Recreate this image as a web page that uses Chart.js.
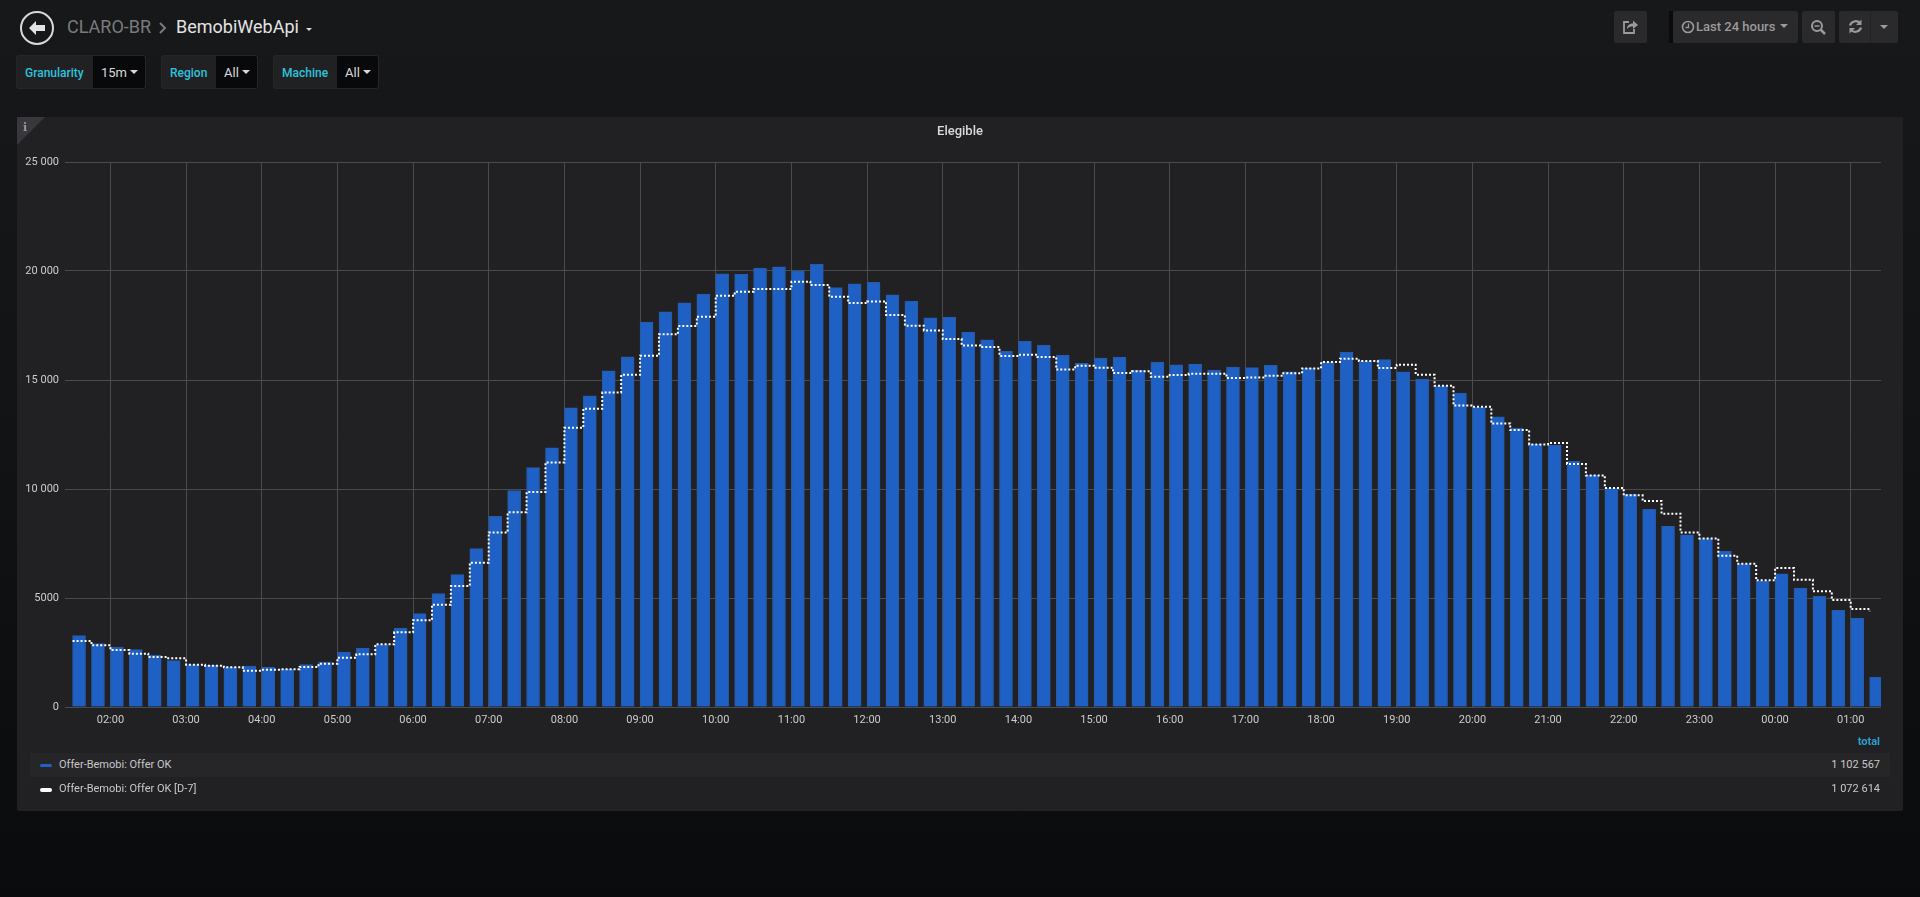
<!DOCTYPE html>
<html>
<head>
<meta charset="utf-8">
<title>CLARO-BR BemobiWebApi</title>
<script src="https://cdn.jsdelivr.net/npm/chart.js@4"></script>
<style>
    html, body { margin: 0; height: 100%; overflow: hidden; }
    body {
        position: relative;
        width: 1920px;
        height: 897px;
        background: linear-gradient(#17181a 0, #141517 300px, #0a0b0d 100%);
        font-family: Roboto, sans-serif;
    }
    .abs { position: absolute; white-space: nowrap; }

    /* top nav */
    .crumb { font-size: 18px; line-height: 24px; top: 15px; }
    .btn { background: #2a2a2d; border-radius: 2px; top: 11px; height: 32px; }
    .btn svg { position: absolute; }

    /* template variables */
    .var-label, .var-value { top: 55px; height: 34px; line-height: 34px; box-sizing: border-box; }
    .var-label {
        background: #212124; color: #2cc3dc; font-size: 12px; font-weight: 500;
        border-radius: 3px 0 0 3px; padding-left: 8px; border: 1px solid #25262a; border-right: 0;
    }
    .var-value {
        background: #09090b; color: #d8d9da; font-size: 13px;
        border-radius: 0 3px 3px 0; padding-left: 8px; border: 1px solid #25262a; border-left: 0;
    }
    .caret {
        position: absolute; width: 0; height: 0;
        border-left: 4px solid transparent; border-right: 4px solid transparent;
        border-top: 4px solid #d8d9da;
    }

    /* panel */
    #panel { left: 17px; top: 117px; width: 1886px; height: 694px; background: #212124; border-radius: 2px; }
    #chart { position: absolute; left: 0; top: 0; }
    #corner {
        left: 0; top: 0; width: 0; height: 0;
        border-top: 28px solid #38383c; border-right: 28px solid transparent;
    }
    #panel-title {
        left: 0; top: 4px; width: 1886px; text-align: center;
        line-height: 20px; font-size: 13px; font-weight: 500; color: #d8d9da;
    }

    /* legend */
    .legend-row { left: 13px; width: 1860px; height: 24px; }
    .legend-text { color: #c8c8c8; font-size: 11px; line-height: 24px; top: 0; }
    .legend-line { left: 10px; width: 12px; border-radius: 2px; }
</style>
</head>
<body>

<!-- back button and title -->
<svg class="abs" style="left:19px;top:10px" width="36" height="36" viewBox="0 0 36 36">
    <circle cx="18" cy="18" r="16" fill="none" stroke="#d8d9da" stroke-width="2"/>
    <path d="M10 18 L17 11 L17 15 L26 15 L26 21 L17 21 L17 25 Z" fill="#e3e3e3"/>
</svg>
<div class="abs crumb" style="left:67px;color:#7b7b7b">CLARO-BR</div>
<svg class="abs" style="left:158px;top:21px" width="10" height="14" viewBox="0 0 10 14">
    <path d="M2 2 L7 7 L2 12" fill="none" stroke="#7b7b7b" stroke-width="2"/>
</svg>
<div class="abs crumb" style="left:176px;color:#e3e3e3">BemobiWebApi</div>
<div class="caret" style="left:306px;top:28px;border-left-width:3.5px;border-right-width:3.5px;border-top-width:3px"></div>

<!-- time controls -->
<div class="abs btn" style="left:1614px;width:33px">
    <svg style="left:8px;top:8px" width="17" height="16" viewBox="0 0 17 16">
        <path d="M7 3 H2 V14 H12 V10" fill="none" stroke="#9a9a9a" stroke-width="1.8"/>
        <path d="M5 10 C5 6 8 4.5 11 4.5 V1.5 L16 6 L11 10 V7.5 C8.5 7.5 6.5 8 5 10 Z" fill="#9a9a9a"/>
    </svg>
</div>
<div class="abs" style="left:1669px;top:11px;width:4px;height:32px;background:#0b0b0d"></div>
<div class="abs btn" style="left:1673px;width:125px">
    <svg style="left:8px;top:9px" width="14" height="14" viewBox="0 0 14 14">
        <circle cx="7" cy="7" r="5.5" fill="none" stroke="#9a9a9a" stroke-width="1.6"/>
        <path d="M7.5 3.5 V7.5 H4.5" fill="none" stroke="#9a9a9a" stroke-width="1.3"/>
    </svg>
    <div class="abs" style="left:23px;top:0;line-height:31px;font-size:13px;font-weight:500;color:#9a9a9a">Last 24 hours</div>
    <div class="caret" style="left:107px;top:13px;border-top-color:#9a9a9a"></div>
</div>
<div class="abs btn" style="left:1802px;width:33px">
    <svg style="left:8px;top:8px" width="17" height="17" viewBox="0 0 17 17">
        <circle cx="7" cy="7" r="5" fill="none" stroke="#9a9a9a" stroke-width="2"/>
        <path d="M4.5 7 H9.5" stroke="#9a9a9a" stroke-width="1.5"/>
        <path d="M10.5 10.5 L15 15" stroke="#9a9a9a" stroke-width="2.5"/>
    </svg>
</div>
<div class="abs btn" style="left:1839px;width:59px">
    <svg style="left:9px;top:8px" width="15" height="15" viewBox="0 0 15 15">
        <path d="M2 6.5 C3 2.5 8.5 0.5 12 4" fill="none" stroke="#9a9a9a" stroke-width="2.2"/>
        <path d="M13.5 0.5 V6 H8 Z" fill="#9a9a9a"/>
        <path d="M13 8.5 C12 12.5 6.5 14.5 3 11" fill="none" stroke="#9a9a9a" stroke-width="2.2"/>
        <path d="M1.5 14.5 V9 H7 Z" fill="#9a9a9a"/>
    </svg>
    <div class="abs" style="left:31px;top:0;width:1px;height:32px;background:#222225"></div>
    <div class="caret" style="left:41px;top:14px;border-top-color:#9a9a9a"></div>
</div>

<!-- template variables -->
<div class="abs var-label" style="left:16px;width:77px">Granularity</div>
<div class="abs var-value" style="left:93px;width:53px">15m<div class="caret" style="left:37px;top:14px"></div></div>
<div class="abs var-label" style="left:161px;width:55px">Region</div>
<div class="abs var-value" style="left:216px;width:42px">All<div class="caret" style="left:26px;top:14px"></div></div>
<div class="abs var-label" style="left:273px;width:64px">Machine</div>
<div class="abs var-value" style="left:337px;width:42px">All<div class="caret" style="left:26px;top:14px"></div></div>

<!-- graph panel -->
<div class="abs" id="panel">
    <canvas id="chart" width="1886" height="694"></canvas>
    <div class="abs" id="corner"></div>
    <div class="abs" style="left:6px;top:4px;font:bold 11px 'DejaVu Serif',serif;color:#9a9a9a">i</div>
    <div class="abs" id="panel-title">Elegible</div>

    <div class="abs" style="right:23px;top:618px;font-size:11px;font-weight:700;color:#2b9fd0">total</div>
    <div class="abs legend-row" style="top:636px;background:#262628">
        <div class="abs legend-line" style="top:11px;height:3px;background:#1f60c4"></div>
        <div class="abs legend-text" style="left:29px">Offer-Bemobi: Offer OK</div>
        <div class="abs legend-text" style="right:10px">1 102 567</div>
    </div>
    <div class="abs legend-row" style="top:660px">
        <div class="abs legend-line" style="top:11px;height:4px;background:#ffffff"></div>
        <div class="abs legend-text" style="left:29px">Offer-Bemobi: Offer OK [D-7]</div>
        <div class="abs legend-text" style="right:10px">1 072 614</div>
    </div>
</div>

<script>
// 15 minute buckets, first one at 01:30
const firstSlotMinutes = 90;
const slotMinutes = 15;

const offerOk = [
    3272, 2905, 2752, 2630, 2385, 2125, 1942, 1911, 1835, 1880, 1835, 1743,
    1942, 2064, 2523, 2706, 2859, 3624, 4281, 5199, 6070, 7263, 8744, 9922,
    10977, 11894, 13729, 14279, 15426, 16068, 17658, 18132, 18545, 18943, 19875, 19845,
    20135, 20197, 20013, 20319, 19234, 19417, 19478, 18912, 18622, 17857, 17888, 17200,
    16848, 16313, 16772, 16603, 16145, 15763, 16007, 16053, 15441, 15824, 15701, 15732,
    15457, 15594, 15564, 15671, 15380, 15549, 15809, 16283, 15870, 15931, 15380, 15044,
    14738, 14402, 13744, 13316, 12796, 12047, 12001, 11267, 10640, 10044, 9769, 9065,
    8286, 7903, 7720, 7139, 6573, 5793, 6114, 5457, 5075, 4433, 4081, 1375
];

const offerOkD7 = [
    3027, 2829, 2615, 2446, 2294, 2232, 1942, 1896, 1820, 1667, 1712, 1728,
    1835, 1988, 2263, 2416, 2875, 3425, 3975, 4694, 5550, 6621, 8010, 8928,
    9861, 11221, 12811, 13683, 14432, 15243, 16114, 17093, 17475, 17903, 18866, 19050,
    19172, 19172, 19509, 19356, 18821, 18530, 18606, 17980, 17490, 17276, 16879, 16588,
    16511, 16099, 16160, 16053, 15487, 15656, 15564, 15319, 15396, 15151, 15227, 15288,
    15288, 15090, 15120, 15197, 15304, 15533, 15824, 15977, 15870, 15549, 15701, 15243,
    14738, 13836, 13775, 13010, 12705, 12047, 12108, 11145, 10625, 10044, 9708, 9448,
    8867, 8010, 7735, 6940, 6573, 5809, 6374, 5839, 5304, 4907, 4494, 4387
];

const hourLabels = [
    '02:00', '03:00', '04:00', '05:00', '06:00', '07:00', '08:00', '09:00',
    '10:00', '11:00', '12:00', '13:00', '14:00', '15:00', '16:00', '17:00',
    '18:00', '19:00', '20:00', '21:00', '22:00', '23:00', '00:00', '01:00'
];
const firstHourMinutes = 120;

const yTickValues = [0, 5000, 10000, 15000, 20000, 25000];
const yTickLabels = ['0', '5000', '10 000', '15 000', '20 000', '25 000'];

// the axis runs 01:24 to 01:24 the next day
const axisMin = 84;
const axisMax = 1524;

// bars start at their timestamp, chart.js centres them, so move them half a bar
const barWidth = 13;
const barShift = 5.15;

const tickFont = { family: 'Roboto', size: 11 };
const gridColor = '#4b4b4d';
const slotTime = (i) => firstSlotMinutes + i * slotMinutes;

new Chart(document.getElementById('chart'), {
    type: 'bar',
    data: {
        datasets: [
            {
                type: 'line',
                label: 'Offer-Bemobi: Offer OK [D-7]',
                data: offerOkD7.map((v, i) => ({ x: slotTime(i), y: v })),
                borderColor: '#ffffff',
                borderWidth: 2,
                borderDash: [2, 2],
                stepped: true,
                pointRadius: 0,
                fill: false,
                order: 0
            },
            {
                label: 'Offer-Bemobi: Offer OK',
                data: offerOk.map((v, i) => ({ x: slotTime(i) + barShift, y: v })),
                backgroundColor: '#1f60c4',
                borderColor: '#285aa6',
                borderWidth: 1,
                barThickness: barWidth,
                order: 1
            }
        ]
    },
    options: {
        responsive: false,
        animation: false,
        layout: { padding: { left: 0, right: 22, top: 45, bottom: 74 } },
        plugins: {
            legend: { display: false },
            tooltip: { enabled: false }
        },
        scales: {
            x: {
                type: 'linear',
                min: axisMin,
                max: axisMax,
                offset: false,
                border: { display: false },
                grid: { color: gridColor, offset: false, drawTicks: false },
                afterBuildTicks: (axis) => {
                    axis.ticks = hourLabels.map((label, i) => ({ value: firstHourMinutes + i * 60 }));
                },
                afterFit: (axis) => { axis.height = 30; },
                ticks: {
                    color: '#cccccc',
                    font: tickFont,
                    padding: 7,
                    autoSkip: false,
                    maxRotation: 0,
                    callback: (value) => hourLabels[(value - firstHourMinutes) / 60]
                }
            },
            y: {
                min: 0,
                max: 25000,
                border: { display: false },
                grid: { color: gridColor, drawTicks: false },
                afterBuildTicks: (axis) => {
                    axis.ticks = yTickValues.map((value) => ({ value: value }));
                },
                afterFit: (axis) => { axis.width = 48; },
                ticks: {
                    color: '#cccccc',
                    font: tickFont,
                    padding: 6,
                    callback: (value) => yTickLabels[yTickValues.indexOf(value)]
                }
            }
        }
    }
});
</script>
</body>
</html>
